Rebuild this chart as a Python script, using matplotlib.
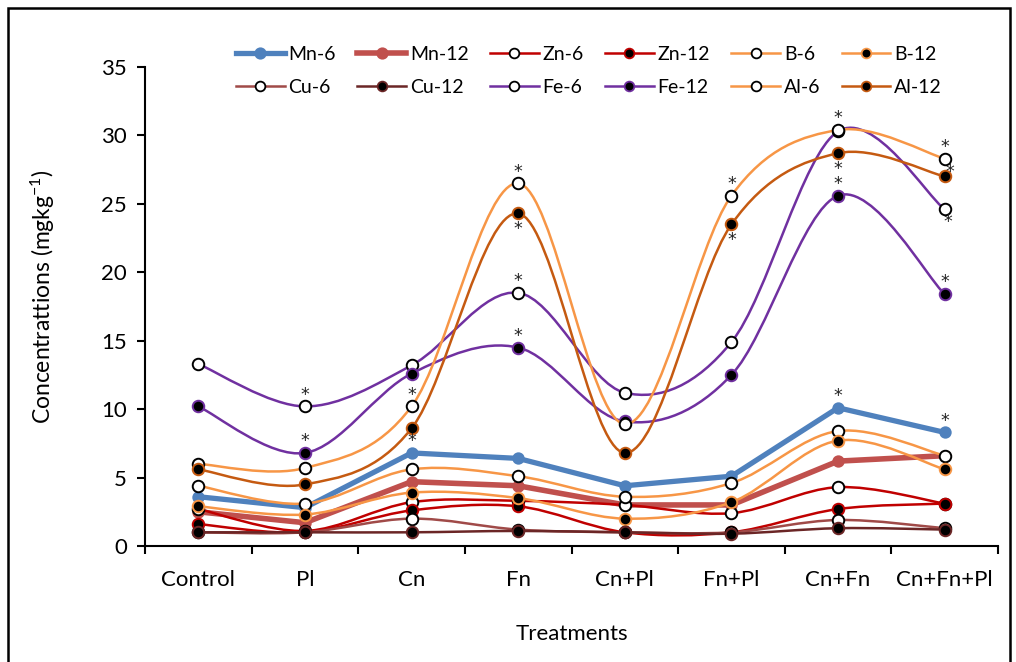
import numpy as np
import matplotlib
matplotlib.use('Agg')
import matplotlib.pyplot as plt
from matplotlib.path import Path
from matplotlib.patches import PathPatch, Rectangle
from matplotlib.lines import Line2D

plt.rcParams['font.family'] = ['Lato', 'DejaVu Sans']
plt.rcParams['mathtext.fontset'] = 'custom'
plt.rcParams['mathtext.rm'] = 'Lato'
plt.rcParams['mathtext.it'] = 'Lato'

categories = ['Control', 'Pl', 'Cn', 'Fn', 'Cn+Pl', 'Fn+Pl', 'Cn+Fn', 'Cn+Fn+Pl']
mn6 = [3.6, 2.8, 6.8, 6.4, 4.4, 5.1, 10.1, 8.3]
mn12 = [2.5, 1.7, 4.7, 4.4, 3.0, 3.0, 6.2, 6.6]
zn6 = [2.7, 1.1, 3.2, 3.3, 3.0, 2.4, 4.3, 3.1]
zn12 = [1.6, 1.0, 2.6, 2.9, 1.0, 1.0, 2.7, 3.1]
b6 = [4.4, 3.1, 5.6, 5.1, 3.6, 4.6, 8.4, 6.6]
b12 = [2.9, 2.3, 3.9, 3.5, 2.0, 3.2, 7.7, 5.6]
cu6 = [1.0, 1.0, 2.0, 1.2, 1.0, 1.0, 1.9, 1.3]
cu12 = [1.0, 1.0, 1.0, 1.1, 1.0, 0.9, 1.3, 1.2]
fe6 = [13.3, 10.2, 13.2, 18.5, 11.2, 14.9, 30.3, 24.6]
fe12 = [10.2, 6.8, 12.6, 14.5, 9.1, 12.5, 25.6, 18.4]
al6 = [6.0, 5.7, 10.2, 26.5, 8.9, 25.6, 30.4, 28.3]
al12 = [5.6, 4.5, 8.6, 24.3, 6.8, 23.5, 28.7, 27.0]

# significance marks: (series label, category index, placement)
stars = [
    ('Fe-6', 1, 'above'), ('Fe-12', 1, 'above'),
    ('Al-6', 2, 'above'), ('Mn-6', 2, 'above'),
    ('Al-6', 3, 'above'), ('Al-12', 3, 'below'), ('Fe-6', 3, 'above'), ('Fe-12', 3, 'above'),
    ('Al-6', 5, 'above'), ('Al-12', 5, 'below'),
    ('Al-6', 6, 'above'), ('Al-12', 6, 'below'), ('Fe-12', 6, 'above'), ('Mn-6', 6, 'above'),
    ('Al-6', 7, 'above'), ('Al-12', 7, 'aboveright'), ('Fe-6', 7, 'belowright'),
    ('Fe-12', 7, 'above'), ('Mn-6', 7, 'above'),
]

BLUE = '#4F81BD'
MNRED = '#C0504D'
RED = '#C00000'
ORANGE = '#F79646'
CU6 = '#A04A48'
CU12 = '#6B2626'
PURPLE = '#7030A0'
AL12 = '#C55A11'

series = [
    # label, values, color, lw, smooth, facecolor, edgecolor, size
    ('Mn-6', mn6, BLUE, 3.8, False, BLUE, BLUE, 7.5),
    ('Mn-12', mn12, MNRED, 4.0, False, MNRED, MNRED, 7.5),
    ('Zn-6', zn6, RED, 1.8, True, 'white', 'black', 8.3),
    ('Zn-12', zn12, RED, 1.8, True, 'black', RED, 8.3),
    ('B-6', b6, ORANGE, 1.8, True, 'white', 'black', 8.3),
    ('B-12', b12, ORANGE, 1.8, True, 'black', ORANGE, 8.3),
    ('Cu-6', cu6, CU6, 1.8, True, 'white', 'black', 8.3),
    ('Cu-12', cu12, CU12, 1.8, True, 'black', CU12, 8.3),
    ('Fe-6', fe6, PURPLE, 1.8, True, 'white', 'black', 8.3),
    ('Fe-12', fe12, PURPLE, 1.8, True, 'black', PURPLE, 8.3),
    ('Al-6', al6, ORANGE, 1.8, True, 'white', 'black', 8.3),
    ('Al-12', al12, AL12, 1.8, True, 'black', AL12, 8.3),
]


def smooth_path(x, y, t=1.0 / 6.0):
    pts = np.column_stack([x, y]).astype(float)
    n = len(pts)
    verts = [pts[0]]
    codes = [Path.MOVETO]
    for i in range(n - 1):
        p0 = pts[max(i - 1, 0)]
        p1 = pts[i]
        p2 = pts[i + 1]
        p3 = pts[min(i + 2, n - 1)]
        verts += [p1 + (p2 - p0) * t, p2 - (p3 - p1) * t, p2]
        codes += [Path.CURVE4] * 3
    return Path(verts, codes)


fig = plt.figure(figsize=(10.16, 6.62), dpi=100)
ax = fig.add_axes([145 / 1016, 1 - 546 / 662, (998 - 145) / 1016, (546 - 67) / 662])

x = np.arange(len(categories)) + 0.5
handles = {}
for k, (lab, vals, col, lw, sm, fc, ec, ms) in enumerate(series):
    z = 2 + k * 0.1
    if sm:
        ax.add_patch(PathPatch(smooth_path(x, vals), fill=False, edgecolor=col,
                               lw=lw, zorder=z, capstyle='round', joinstyle='round'))
    else:
        ax.plot(x, vals, color=col, lw=lw, zorder=z, solid_capstyle='round')
    ax.plot(x, vals, linestyle='none', marker='o', ms=ms, mfc=fc, mec=ec,
            mew=1.4, zorder=z + 0.05)
    handles[lab] = Line2D([], [], color=col, lw=lw, marker='o',
                          ms=(7.5 if not sm else 7), mfc=fc, mec=ec, mew=1.3)

values = {s[0]: s[1] for s in series}
offsets = {'above': (0, 8.5), 'below': (0, -11.5), 'aboveright': (4, 3),
           'belowright': (2, -9)}
for lab, ci, place in stars:
    dx, dy = offsets[place]
    ax.annotate('*', xy=(x[ci], values[lab][ci]), xytext=(dx, dy),
                textcoords='offset points', ha='center', va='center',
                fontsize=12.5, color='#222222', zorder=10, family='DejaVu Sans')

ax.set_xlim(0, len(categories))
ax.set_ylim(0, 35)
ax.set_yticks(np.arange(0, 36, 5))
ax.set_xticks(np.arange(0, len(categories) + 1))
ax.set_xticklabels([])
ax.set_xticks(x, minor=True)
ax.set_xticklabels(categories, minor=True)
ax.tick_params(axis='x', which='major', length=6, width=1.5, direction='out')
ax.tick_params(axis='x', which='minor', length=0, pad=17, labelsize=16)
ax.tick_params(axis='y', length=6, width=1.5, direction='out', labelsize=16, pad=7)
for s in ['top', 'right']:
    ax.spines[s].set_visible(False)
for s in ['left', 'bottom']:
    ax.spines[s].set_linewidth(1.5)

ax.set_xlabel('Treatments', fontsize=16, labelpad=25)
ax.set_ylabel('Concentrattions (mgkg$^{-1}$)', fontsize=16.5)
ax.yaxis.set_label_coords((57 - 145) / 853, 0.52)

order = ['Mn-6', 'Cu-6', 'Mn-12', 'Cu-12', 'Zn-6', 'Fe-6', 'Zn-12', 'Fe-12',
         'B-6', 'Al-6', 'B-12', 'Al-12']
fig.legend([handles[o] for o in order], order, ncol=6, frameon=False,
           loc='lower left', mode='expand',
           bbox_to_anchor=(236 / 1016, 1 - 96 / 662, (942 - 236) / 1016, 60 / 662),
           fontsize=14, handlelength=2.5, handletextpad=0.2, labelspacing=0.82,
           borderaxespad=0, borderpad=0)

fig.patches.append(Rectangle((8 / 1016, -0.05), (1010 - 8) / 1016, 1.05 - 8 / 662,
                             transform=fig.transFigure, fill=False,
                             edgecolor='black', lw=1.8))

fig.savefig('out.png', dpi=100)
